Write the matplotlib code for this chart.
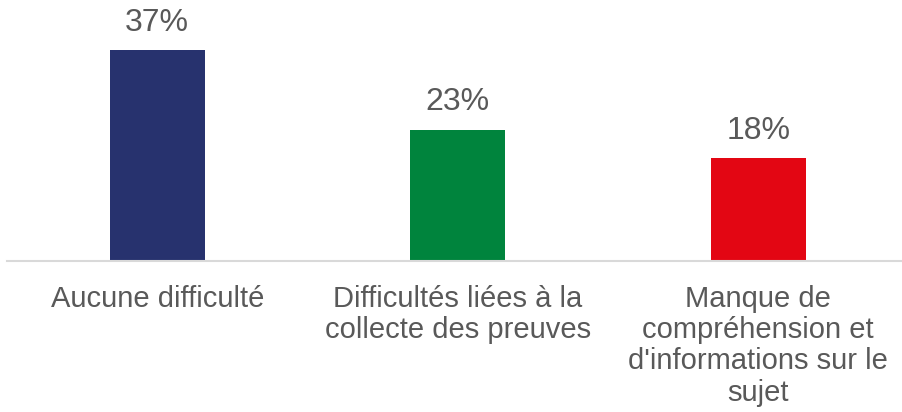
import matplotlib
matplotlib.use("Agg")
from matplotlib import pyplot as plt

categories = [
    "Aucune difficulté",
    "Difficultés liées à la\ncollecte des preuves",
    "Manque de\ncompréhension et\nd'informations sur le\nsujet",
]
values = [37, 23, 18]
bar_colors = ["#27326E", "#00843D", "#E30613"]

plt.rcParams['font.family'] = ['Liberation Sans', 'DejaVu Sans']
text_color = "#595959"

fig = plt.figure(figsize=(9.02, 4.12), dpi=100)
ax = fig.add_axes([7 / 902, (412 - 261) / 412, 901.5 / 902, 261 / 412])

x = range(len(categories))
bars = ax.bar(x, values, width=0.316, color=bar_colors, zorder=2)

for rect, v in zip(bars, values):
    ax.annotate(f"{v}%", (rect.get_x() + rect.get_width() / 2, v),
                xytext=(0, 9), textcoords="offset points",
                ha="center", va="bottom", fontsize=23, color=text_color)

ax.set_xlim(-0.5, 2.5)
ax.set_ylim(0, 45.8)
ax.set_xticks(list(x))
ax.set_xticklabels(categories, fontsize=21, color=text_color, linespacing=1.15)
ax.tick_params(axis='x', length=0, pad=17)
ax.set_yticks([])

for side in ['top', 'right', 'left']:
    ax.spines[side].set_visible(False)
ax.spines['bottom'].set_color("#D9D9D9")
ax.spines['bottom'].set_linewidth(1.5)

fig.savefig("out.png", dpi=100)
plt.close(fig)
